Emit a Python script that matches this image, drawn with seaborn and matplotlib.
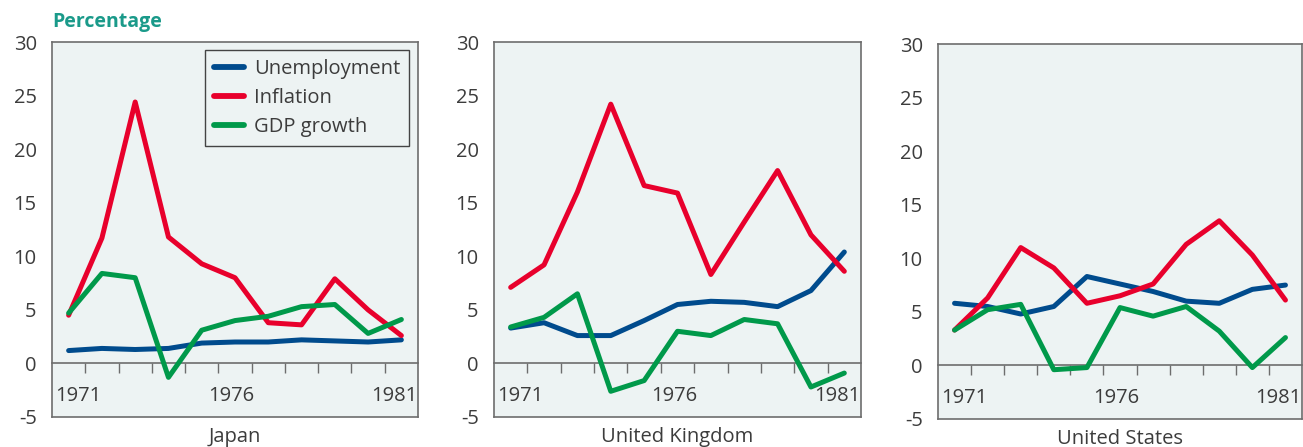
import numpy as np
import pandas as pd
import matplotlib
matplotlib.use("Agg")
import matplotlib.pyplot as plt
import matplotlib.transforms as mtransforms
import seaborn as sns

# Data (percent, 1971-1981)
years = list(range(1971, 1982))
countries = ["Japan", "United Kingdom", "United States"]
series_names = ["Unemployment", "Inflation", "GDP growth"]

japan_unemployment = [1.2, 1.4, 1.3, 1.4, 1.9, 2.0, 2.0, 2.2, 2.1, 2.0, 2.2]
japan_inflation = [4.5, 11.7, 24.4, 11.8, 9.3, 8.0, 3.8, 3.6, 7.9, 5.0, 2.6]
japan_gdp = [4.7, 8.4, 8.0, -1.3, 3.1, 4.0, 4.4, 5.3, 5.5, 2.8, 4.1]

uk_unemployment = [3.3, 3.8, 2.6, 2.6, 4.0, 5.5, 5.8, 5.7, 5.3, 6.8, 10.4]
uk_inflation = [7.1, 9.2, 16.0, 24.2, 16.6, 15.9, 8.3, 13.2, 18.0, 12.0, 8.6]
uk_gdp = [3.4, 4.3, 6.5, -2.6, -1.6, 3.0, 2.6, 4.1, 3.7, -2.2, -0.9]

us_unemployment = [5.8, 5.5, 4.8, 5.5, 8.3, 7.6, 6.9, 6.0, 5.8, 7.1, 7.5]
us_inflation = [3.3, 6.3, 11.0, 9.1, 5.8, 6.5, 7.6, 11.3, 13.5, 10.3, 6.1]
us_gdp = [3.3, 5.2, 5.7, -0.4, -0.2, 5.4, 4.6, 5.5, 3.2, -0.2, 2.6]

year_labels = ["1971", "1976", "1981"]
y_ticks = [-5, 0, 5, 10, 15, 20, 25, 30]

data = {
    "Japan": [japan_unemployment, japan_inflation, japan_gdp],
    "United Kingdom": [uk_unemployment, uk_inflation, uk_gdp],
    "United States": [us_unemployment, us_inflation, us_gdp],
}

rows = []
for c in countries:
    for name, vals in zip(series_names, data[c]):
        for yr, v in zip(years, vals):
            rows.append({"country": c, "series": name, "year": yr, "value": v})
df = pd.DataFrame(rows)

sns.set_theme(style="white")
plt.rcParams["font.family"] = ["Open Sans", "DejaVu Sans"]
plt.rcParams["axes.unicode_minus"] = False

palette = {"Unemployment": "#004b8d", "Inflation": "#e8002c", "GDP growth": "#00994a"}
bg = "#edf3f3"
edge = "#6d6d6d"
text_col = "#3c3c3c"
fs = 14.5

W, H = 1303, 447
fig = plt.figure(figsize=(W / 100, H / 100), dpi=100)

# axes boxes in pixels: left, top, right, bottom
boxes = [(52, 42, 418, 417), (494, 42, 861, 417), (938, 44, 1302, 419)]

for i, c in enumerate(countries):
    l, t, r, b = boxes[i]
    ax = fig.add_axes([l / W, (H - b) / H, (r - l) / W, (b - t) / H])
    ax.set_facecolor(bg)
    sns.lineplot(data=df[df.country == c], x="year", y="value", hue="series",
                 hue_order=series_names, palette=palette, linewidth=3.6,
                 ax=ax, legend=(i == 0), solid_capstyle="round")

    ax.set_xlim(1970.5, 1981.5)
    ax.set_ylim(-5, 30)
    ax.set_yticks(y_ticks)
    ax.set_xticks([])
    ax.tick_params(axis="y", direction="out", length=8, width=1, color=edge,
                   labelsize=fs, labelcolor=text_col, pad=3)
    for sp in ax.spines.values():
        sp.set_visible(True)
        sp.set_color(edge)
        sp.set_linewidth(1.2)
    ax.set_ylabel("")
    ax.set_xlabel(c, fontsize=fs, color=text_col, labelpad=7)

    # zero line with year boundary ticks
    sec = ax.secondary_xaxis(5 / 35)
    sec.set_xticks([y + 0.5 for y in years[:-1]])
    sec.tick_params(axis="x", direction="out", length=7, width=1, color=edge,
                    labelbottom=False)
    for sp in sec.spines.values():
        sp.set_color(edge)
        sp.set_linewidth(1.2)

    # year labels inside the plot below the zero line
    trans = mtransforms.blended_transform_factory(ax.transAxes, ax.transData)
    ax.text(0.01, -3.0, year_labels[0], transform=trans, ha="left", va="center",
            fontsize=fs, color=text_col)
    ax.text(1975.9, -3.0, year_labels[1], ha="center", va="center",
            fontsize=fs, color=text_col)
    ax.text(0.998, -3.0, year_labels[2], transform=trans, ha="right", va="center",
            fontsize=fs, color=text_col)

    if i == 0:
        leg = ax.legend(loc="upper right", bbox_to_anchor=(0.976, 0.979), frameon=True,
                        fontsize=fs, handlelength=1.5, handletextpad=0.5,
                        borderpad=0.45, labelspacing=0.45, borderaxespad=0,
                        fancybox=False)
        leg.get_frame().set_facecolor(bg)
        leg.get_frame().set_edgecolor("#444444")
        leg.get_frame().set_linewidth(1.0)
        leg.get_frame().set_alpha(1)
        for txt in leg.get_texts():
            txt.set_color(text_col)
        for ln in leg.get_lines():
            ln.set_linewidth(4.2)

fig.text(52 / W, 1 - 22 / H, "Percentage", fontsize=14, fontweight="bold",
         color="#1a9a8a", ha="left", va="center")

fig.savefig("out.png", dpi=100)
